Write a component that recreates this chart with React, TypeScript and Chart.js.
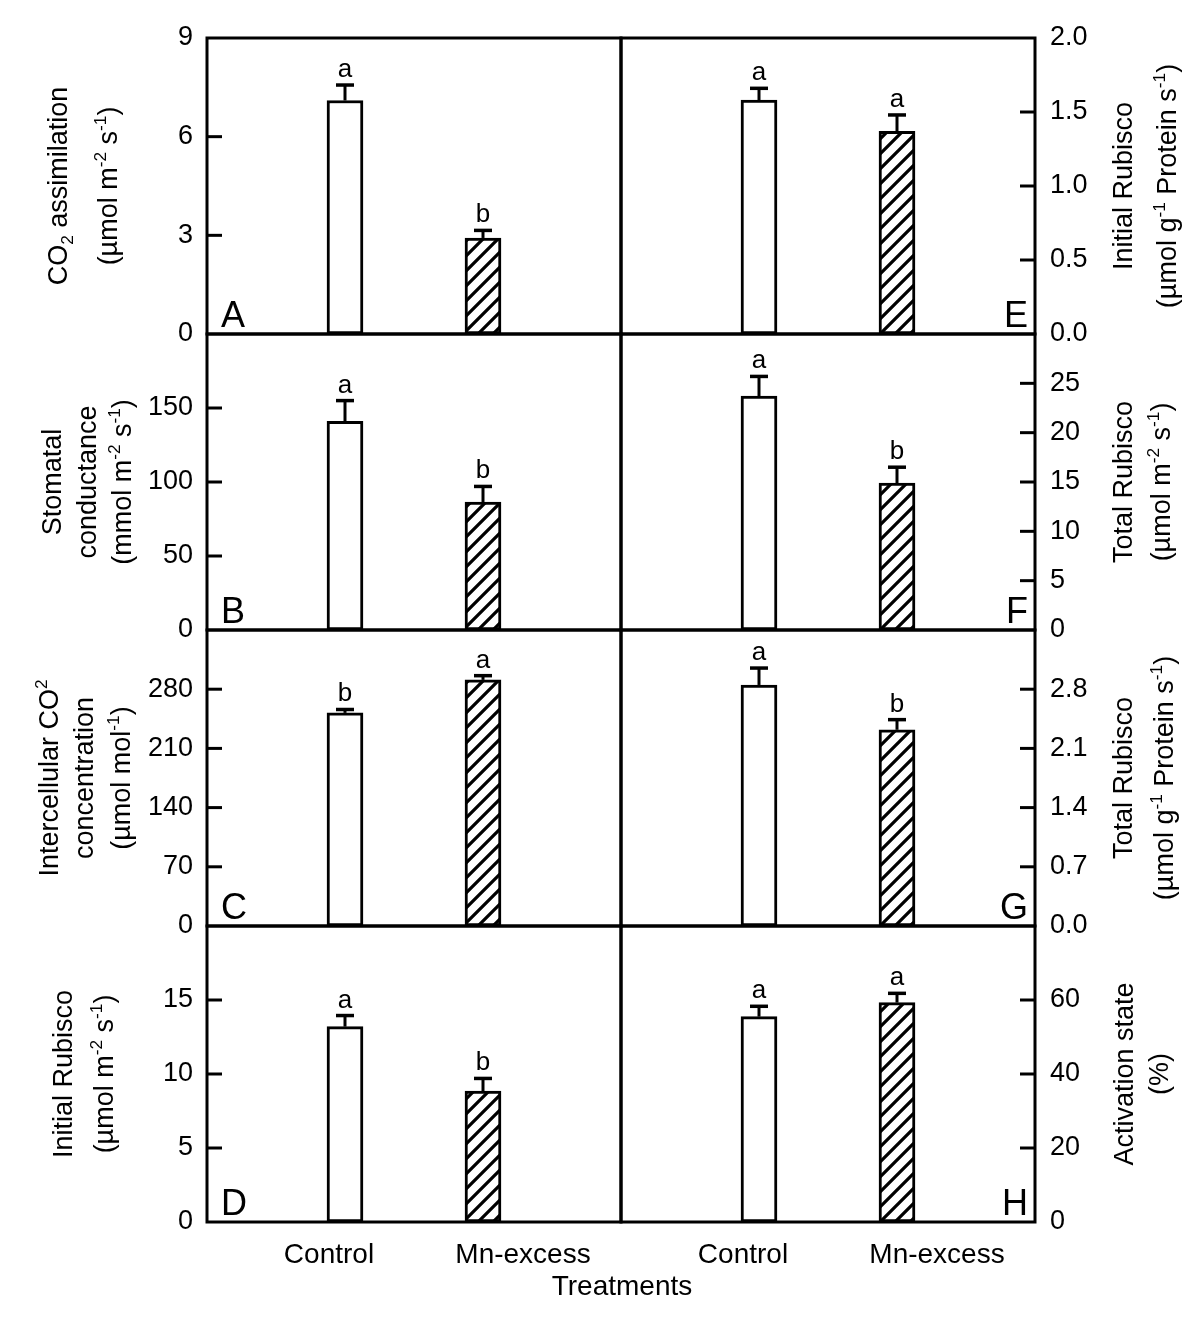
import React, { useEffect, useRef } from "react";
import { Chart, registerables } from "chart.js";

Chart.register(...registerables);

// ---------------- data ----------------
const treatments = ["Control", "Mn-excess"];
const axisTitleX = "Treatments";

const aMeans = [7.1, 2.92];
const aErrors = [0.47, 0.23];
const aLetters = ["a", "b"];
const aTicks = [0, 3, 6, 9];
const aTitle = ["CO_{2} assimilation", "(µmol m^{-2} s^{-1})"];

const bMeans = [141, 86.5];
const bErrors = [14, 10.5];
const bLetters = ["a", "b"];
const bTicks = [0, 50, 100, 150, 200];
const bTitle = ["Stomatal", "conductance", "(mmol m^{-2} s^{-1})"];

const cMeans = [252, 291];
const cErrors = [4, 5];
const cLetters = ["b", "a"];
const cTicks = [0, 70, 140, 210, 280, 350];
const cTitle = ["Intercellular CO^{2}", "concentration", "(µmol mol^{-1})"];

const dMeans = [13.2, 8.85];
const dErrors = [0.75, 0.85];
const dLetters = ["a", "b"];
const dTicks = [0, 5, 10, 15, 20];
const dTitle = ["Initial Rubisco", "(µmol m^{-2} s^{-1})"];

const eMeans = [1.58, 1.37];
const eErrors = [0.08, 0.11];
const eLetters = ["a", "a"];
const eTicks = [0, 0.5, 1.0, 1.5, 2.0];
const eTitle = ["Initial Rubisco", "(µmol g^{-1} Protein s^{-1})"];

const fMeans = [23.7, 14.9];
const fErrors = [2.0, 1.6];
const fLetters = ["a", "b"];
const fTicks = [0, 5, 10, 15, 20, 25, 30];
const fTitle = ["Total Rubisco", "(µmol m^{-2} s^{-1})"];

const gMeans = [2.85, 2.32];
const gErrors = [0.2, 0.12];
const gLetters = ["a", "b"];
const gTicks = [0, 0.7, 1.4, 2.1, 2.8, 3.5];
const gTitle = ["Total Rubisco", "(µmol g^{-1} Protein s^{-1})"];

const hMeans = [55.5, 59.3];
const hErrors = [2.8, 2.5];
const hLetters = ["a", "a"];
const hTicks = [0, 20, 40, 60, 80];
const hTitle = ["Activation state", "(%)"];

// ---------------- layout / style ----------------
const FONT = '"Liberation Sans", Arial, Helvetica, sans-serif';
const PLOT_TOP = 38;
const PLOT_H = 296;
const LEFT_X = 207;
const MID_X = 621;
const RIGHT_X = 1035;
const LEFT_CANVAS_W = 720;
const RIGHT_CANVAS_LEFT = 612;
const RIGHT_CANVAS_W = 1200 - RIGHT_CANVAS_LEFT;
const PAD_TOP = 36;
const PAD_BOTTOM = 36;
const PAD_BOTTOM_LAST = 100;
const TICK_FONT = 27;
const TITLE_FONT = 27;

type PanelCfg = {
  id: string;
  col: number;
  row: number;
  means: number[];
  errors: number[];
  letters: string[];
  ticks: number[];
  decimals: number;
  title: string[];
  titleBaselines: number[]; // page x of each title line baseline
};

const panels: PanelCfg[] = [
  { id: "A", col: 0, row: 0, means: aMeans, errors: aErrors, letters: aLetters, ticks: aTicks, decimals: 0, title: aTitle, titleBaselines: [67, 117] },
  { id: "B", col: 0, row: 1, means: bMeans, errors: bErrors, letters: bLetters, ticks: bTicks, decimals: 0, title: bTitle, titleBaselines: [61, 96, 131] },
  { id: "C", col: 0, row: 2, means: cMeans, errors: cErrors, letters: cLetters, ticks: cTicks, decimals: 0, title: cTitle, titleBaselines: [58, 93, 130] },
  { id: "D", col: 0, row: 3, means: dMeans, errors: dErrors, letters: dLetters, ticks: dTicks, decimals: 0, title: dTitle, titleBaselines: [72, 113] },
  { id: "E", col: 1, row: 0, means: eMeans, errors: eErrors, letters: eLetters, ticks: eTicks, decimals: 1, title: eTitle, titleBaselines: [1132, 1176] },
  { id: "F", col: 1, row: 1, means: fMeans, errors: fErrors, letters: fLetters, ticks: fTicks, decimals: 0, title: fTitle, titleBaselines: [1132, 1170] },
  { id: "G", col: 1, row: 2, means: gMeans, errors: gErrors, letters: gLetters, ticks: gTicks, decimals: 1, title: gTitle, titleBaselines: [1132, 1173] },
  { id: "H", col: 1, row: 3, means: hMeans, errors: hErrors, letters: hLetters, ticks: hTicks, decimals: 0, title: hTitle, titleBaselines: [1133, 1168] },
];

// ---------------- helpers ----------------
type Seg = { t: string; k: number };
function parseRich(s: string): Seg[] {
  const out: Seg[] = [];
  const re = /(\^|_)\{([^}]*)\}/g;
  let last = 0;
  let m: RegExpExecArray | null;
  while ((m = re.exec(s))) {
    if (m.index > last) out.push({ t: s.slice(last, m.index), k: 0 });
    out.push({ t: m[2], k: m[1] === "^" ? 1 : -1 });
    last = re.lastIndex;
  }
  if (last < s.length) out.push({ t: s.slice(last), k: 0 });
  return out;
}

function drawRichRotated(ctx: CanvasRenderingContext2D, text: string, bx: number, cy: number, size: number) {
  const segs = parseRich(text);
  const small = size * 0.64;
  let w = 0;
  const widths: number[] = [];
  for (const s of segs) {
    ctx.font = `${s.k ? small : size}px ${FONT}`;
    const sw = ctx.measureText(s.t).width;
    widths.push(sw);
    w += sw;
  }
  ctx.save();
  ctx.translate(bx, cy);
  ctx.rotate(-Math.PI / 2);
  ctx.textAlign = "left";
  ctx.textBaseline = "alphabetic";
  ctx.fillStyle = "#000";
  let x = -w / 2;
  segs.forEach((s, i) => {
    ctx.font = `${s.k ? small : size}px ${FONT}`;
    const dy = s.k === 1 ? -size * 0.42 : s.k === -1 ? size * 0.22 : 0;
    ctx.fillText(s.t, x, dy);
    x += widths[i];
  });
  ctx.restore();
}

function makeHatch(ctx: CanvasRenderingContext2D): CanvasPattern | string {
  const s = 15;
  const c = document.createElement("canvas");
  c.width = s;
  c.height = s;
  const g = c.getContext("2d");
  if (!g) return "#fff";
  g.fillStyle = "#fff";
  g.fillRect(0, 0, s, s);
  g.strokeStyle = "#000";
  g.lineWidth = 3.2;
  g.lineCap = "square";
  g.beginPath();
  g.moveTo(-2, s + 2);
  g.lineTo(s + 2, -2);
  g.moveTo(-4, 4);
  g.lineTo(4, -4);
  g.moveTo(s - 4, s + 4);
  g.lineTo(s + 4, s - 4);
  g.stroke();
  return ctx.createPattern(c, "repeat") || "#fff";
}

function Panel({ p }: { p: PanelCfg }) {
  const ref = useRef<HTMLCanvasElement | null>(null);
  const isLast = p.row === 3;
  const canvasLeft = p.col === 0 ? 0 : RIGHT_CANVAS_LEFT;
  const canvasW = p.col === 0 ? LEFT_CANVAS_W : RIGHT_CANVAS_W;
  const canvasTop = PLOT_TOP + PLOT_H * p.row - PAD_TOP;
  const canvasH = PLOT_H + PAD_TOP + (isLast ? PAD_BOTTOM_LAST : PAD_BOTTOM);

  useEffect(() => {
    const canvas = ref.current;
    if (!canvas) return;
    const ctx = canvas.getContext("2d");
    if (!ctx) return;
    const hatch = makeHatch(ctx);
    const maxV = p.ticks[p.ticks.length - 1];

    const errorPlugin = {
      id: "errbars" + p.id,
      afterDatasetsDraw(chart: any) {
        const c = chart.ctx as CanvasRenderingContext2D;
        const ys = chart.scales.y;
        const meta = chart.getDatasetMeta(0);
        c.save();
        c.strokeStyle = "#000";
        c.fillStyle = "#000";
        meta.data.forEach((el: any, i: number) => {
          const yTop = ys.getPixelForValue(p.means[i] + p.errors[i]);
          const yBar = ys.getPixelForValue(p.means[i]);
          c.lineWidth = 3;
          c.beginPath();
          c.moveTo(el.x, yBar);
          c.lineTo(el.x, yTop);
          c.stroke();
          c.lineWidth = 3.5;
          c.beginPath();
          c.moveTo(el.x - 9, yTop);
          c.lineTo(el.x + 9, yTop);
          c.stroke();
          c.font = `26px ${FONT}`;
          c.textAlign = "center";
          c.textBaseline = "alphabetic";
          c.fillText(p.letters[i], el.x, yTop - 8);
        });
        c.restore();
      },
    };

    const framePlugin = {
      id: "frame" + p.id,
      afterDraw(chart: any) {
        const c = chart.ctx as CanvasRenderingContext2D;
        const { left, top, right, bottom } = chart.chartArea;
        const ys = chart.scales.y;
        const xs = chart.scales.x;
        c.save();
        c.strokeStyle = "#000";
        c.lineWidth = 3;
        c.strokeRect(left, top, right - left, bottom - top);
        // inward ticks
        const axisX = p.col === 0 ? left : right;
        const dir = p.col === 0 ? 1 : -1;
        for (const t of ys.ticks) {
          if (t.value <= ys.min || t.value >= ys.max) continue;
          const y = ys.getPixelForValue(t.value);
          c.beginPath();
          c.moveTo(axisX, y);
          c.lineTo(axisX + dir * 15, y);
          c.stroke();
        }
        // panel letter
        c.fillStyle = "#000";
        c.font = `36px ${FONT}`;
        c.textBaseline = "alphabetic";
        if (p.col === 0) {
          c.textAlign = "left";
          c.fillText(p.id, left + 14, bottom - 7);
        } else {
          c.textAlign = "right";
          c.fillText(p.id, right - 7, bottom - 7);
        }
        // axis title
        const cy = (top + bottom) / 2;
        p.title.forEach((line, i) => {
          drawRichRotated(c, line, p.titleBaselines[i] - canvasLeft, cy, TITLE_FONT);
        });
        // x category labels for bottom row
        if (isLast) {
          c.font = `28px ${FONT}`;
          c.textAlign = "center";
          const offs = [-16, 40];
          treatments.forEach((t, i) => {
            c.fillText(t, xs.getPixelForValue(i + 1) + offs[i], bottom + 41);
          });
          if (p.col === 0) {
            c.fillText(axisTitleX, right + 1, bottom + 73);
          }
        }
        c.restore();
      },
    };

    const chart = new Chart(canvas, {
      type: "bar",
      data: {
        datasets: [
          {
            data: p.means.map((m, i) => ({ x: i + 1, y: m })),
            backgroundColor: ["#ffffff", hatch as any],
            borderColor: "#000",
            borderWidth: 3,
            borderSkipped: false,
            barThickness: 36,
          } as any,
        ],
      },
      options: {
        animation: false,
        responsive: false,
        maintainAspectRatio: false,
        events: [],
        layout: {
          padding: {
            left: p.col === 0 ? 0 : MID_X - RIGHT_CANVAS_LEFT,
            right: p.col === 0 ? LEFT_CANVAS_W - MID_X : 0,
            top: PAD_TOP,
            bottom: isLast ? PAD_BOTTOM_LAST : PAD_BOTTOM,
          },
        },
        plugins: { legend: { display: false }, tooltip: { enabled: false } },
        scales: {
          x: { type: "linear", min: 0, max: 3, display: false, offset: false },
          y: {
            type: "linear",
            position: p.col === 0 ? "left" : "right",
            min: 0,
            max: maxV,
            afterBuildTicks: (s: any) => {
              s.ticks = p.ticks.map((v) => ({ value: v }));
            },
            afterFit: (s: any) => {
              s.width = p.col === 0 ? LEFT_X : 1200 - RIGHT_X;
            },
            grid: { display: false, drawTicks: false },
            border: { display: false },
            ticks: {
              padding: p.col === 0 ? 14 : 15,
              color: "#000",
              font: { family: FONT, size: TICK_FONT },
              callback: (v: any) => {
                const n = Number(v);
                if (p.row > 0 && Math.abs(n - maxV) < 1e-9) return "";
                return n.toFixed(p.decimals);
              },
            },
          },
        },
      } as any,
      plugins: [errorPlugin, framePlugin],
    });
    return () => chart.destroy();
  }, []);

  return (
    <canvas
      ref={ref}
      width={canvasW}
      height={canvasH}
      style={{ position: "absolute", left: canvasLeft, top: canvasTop, width: canvasW, height: canvasH }}
    />
  );
}

export default function App() {
  return (
    <div style={{ position: "absolute", left: 0, top: 0, width: 1200, height: 1337, background: "#fff", overflow: "hidden" }}>
      {panels.map((p) => (
        <Panel key={p.id} p={p} />
      ))}
    </div>
  );
}
